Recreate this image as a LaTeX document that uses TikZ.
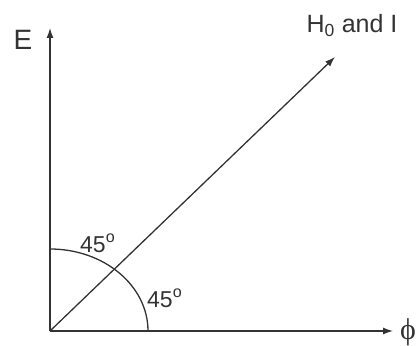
\documentclass[tikz,border=0pt]{standalone}
\usepackage{fontspec}
\setmainfont{Liberation Sans}
\newfontfamily\phifont{Liberation Serif}
\usetikzlibrary{arrows.meta}
\begin{document}
\begin{tikzpicture}[x=1pt,y=1pt,
  axis/.style={draw=black!80,line width=1.3pt,-{Latex[length=10pt,width=7pt]}},
  lbl/.style={inner sep=0pt,text=black!80}]
\useasboundingbox (0,0) rectangle (419,345);
\coordinate (O) at (50,14);
\coordinate (Etip) at (50,317);
\coordinate (Ptip) at (393,14);
\coordinate (Dtip) at (335,288);
\draw[axis] (O) -- (Etip);
\draw[axis] (O) -- (Ptip);
\draw[axis] (O) -- (Dtip);
\coordinate (A0) at (148,14);
\draw[draw=black!80,line width=1.3pt] (A0) arc[start angle=0,end angle=90,x radius=98pt,y radius=82pt];
\node[lbl,anchor=base] (E) at (23,295) {\fontsize{28}{30}\selectfont E};
\node[lbl,anchor=base] (H) at (352,312) {\fontsize{25}{28}\selectfont H\textsubscript{0} and I};
\node[lbl,anchor=base west] (a1) at (80,93) {\fontsize{23}{26}\selectfont 45\textsuperscript{o}};
\node[lbl,anchor=base west] (a2) at (147,38) {\fontsize{23}{26}\selectfont 45\textsuperscript{o}};
\node[lbl] (phi) at (408,13) {\fontsize{30}{32}\selectfont\phifont ϕ};
\end{tikzpicture}
\end{document}
